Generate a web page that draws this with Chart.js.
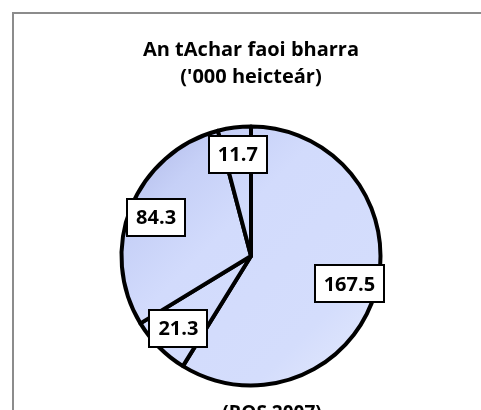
<!DOCTYPE html>
<html>
<head>
<meta charset="utf-8">
<script src="https://cdn.jsdelivr.net/npm/chart.js@4.4.1/dist/chart.umd.min.js"></script>
<style>
  html, body { margin: 0; padding: 0; background: #fff; overflow: hidden; }
  #wrap { width: 481px; height: 410px; }
</style>
</head>
<body>
<div id="wrap"><canvas id="cropChart" width="481" height="410"></canvas></div>
<script>
// area under crops, '000 hectares (ROS 2007)
var sliceLabels = ['A', 'B', 'C', 'D'];
var sliceValues = [167.5, 21.3, 84.3, 11.7];
var titleLines = ['An tAchar faoi bharra', "('000 heicteár)"];
var sourceNote = '(ROS 2007)';

var FONT = '"Open Sans", Lato, sans-serif';

// grey frame + the cut-off source note
var framePlugin = {
    id: 'frame',
    beforeDraw: function(chart) {
        var ctx = chart.ctx;
        ctx.save();
        ctx.fillStyle = '#ffffff';
        ctx.fillRect(0, 0, chart.width, chart.height);
        ctx.strokeStyle = '#8c8c8c';
        ctx.lineWidth = 2;
        ctx.strokeRect(13, 13, 500, 500);
        ctx.restore();
    },
    afterDraw: function(chart) {
        var ctx = chart.ctx;
        ctx.save();
        ctx.font = 'bold 19px ' + FONT;
        ctx.fillStyle = '#000';
        ctx.textAlign = 'center';
        ctx.textBaseline = 'middle';
        ctx.fillText(sourceNote, 272, 414);
        ctx.restore();
    }
};

// boxed value labels, like Excel's data labels
var boxLabels = {
    id: 'boxLabels',
    afterDatasetsDraw: function(chart) {
        var ctx = chart.ctx;
        var meta = chart.getDatasetMeta(0);
        ctx.save();
        ctx.font = 'bold 20px ' + FONT;
        ctx.textAlign = 'center';
        ctx.textBaseline = 'middle';
        meta.data.forEach(function(arc, i) {
            var p = arc.getProps(['x', 'y', 'startAngle', 'endAngle', 'outerRadius'], true);
            var mid = (p.startAngle + p.endAngle) / 2;
            var r = p.outerRadius * 0.79;
            var cx = p.x + Math.cos(mid) * r;
            var cy = p.y + Math.sin(mid) * r;
            var txt = sliceValues[i].toFixed(1);
            var w = Math.round(ctx.measureText(txt).width + 18);
            var h = 37;
            var bx = Math.round(cx - w / 2), by = Math.round(cy - h / 2);
            ctx.fillStyle = '#ffffff';
            ctx.fillRect(bx, by, w, h);
            ctx.strokeStyle = '#000';
            ctx.lineWidth = 2;
            ctx.strokeRect(bx, by, w, h);
            ctx.fillStyle = '#000';
            ctx.fillText(txt, cx, cy + 1);
        });
        ctx.restore();
    }
};

function sliceFill(context) {
    var chart = context.chart;
    var a = chart.chartArea;
    if (!a) return '#d0d9fb';
    var g = chart.ctx.createLinearGradient(a.left, a.top, a.right, a.bottom);
    g.addColorStop(0, '#aab3e4');
    g.addColorStop(0.22, '#c6d0f7');
    g.addColorStop(0.4, '#d2dbfc');
    g.addColorStop(0.75, '#d4ddfc');
    g.addColorStop(1, '#e6ebfd');
    return g;
}

var ctx = document.getElementById('cropChart').getContext('2d');
var cropChart = new Chart(ctx, {
    type: 'pie',
    data: {
        labels: sliceLabels,
        datasets: [{
            data: sliceValues,
            backgroundColor: sliceFill,
            borderColor: '#000000',
            borderWidth: 4,
            borderJoinStyle: 'round'
        }]
    },
    options: {
        responsive: false,
        animation: false,
        layout: {
            padding: { left: 119.5, right: 98.5, top: 0, bottom: 22.5 }
        },
        plugins: {
            legend: { display: false },
            tooltip: { enabled: false },
            title: {
                display: true,
                text: titleLines,
                color: '#000',
                font: { family: FONT, size: 20, weight: 'bold', lineHeight: '27px' },
                padding: { top: 36.5, bottom: 34 }
            }
        }
    },
    plugins: [framePlugin, boxLabels]
});
</script>
</body>
</html>
